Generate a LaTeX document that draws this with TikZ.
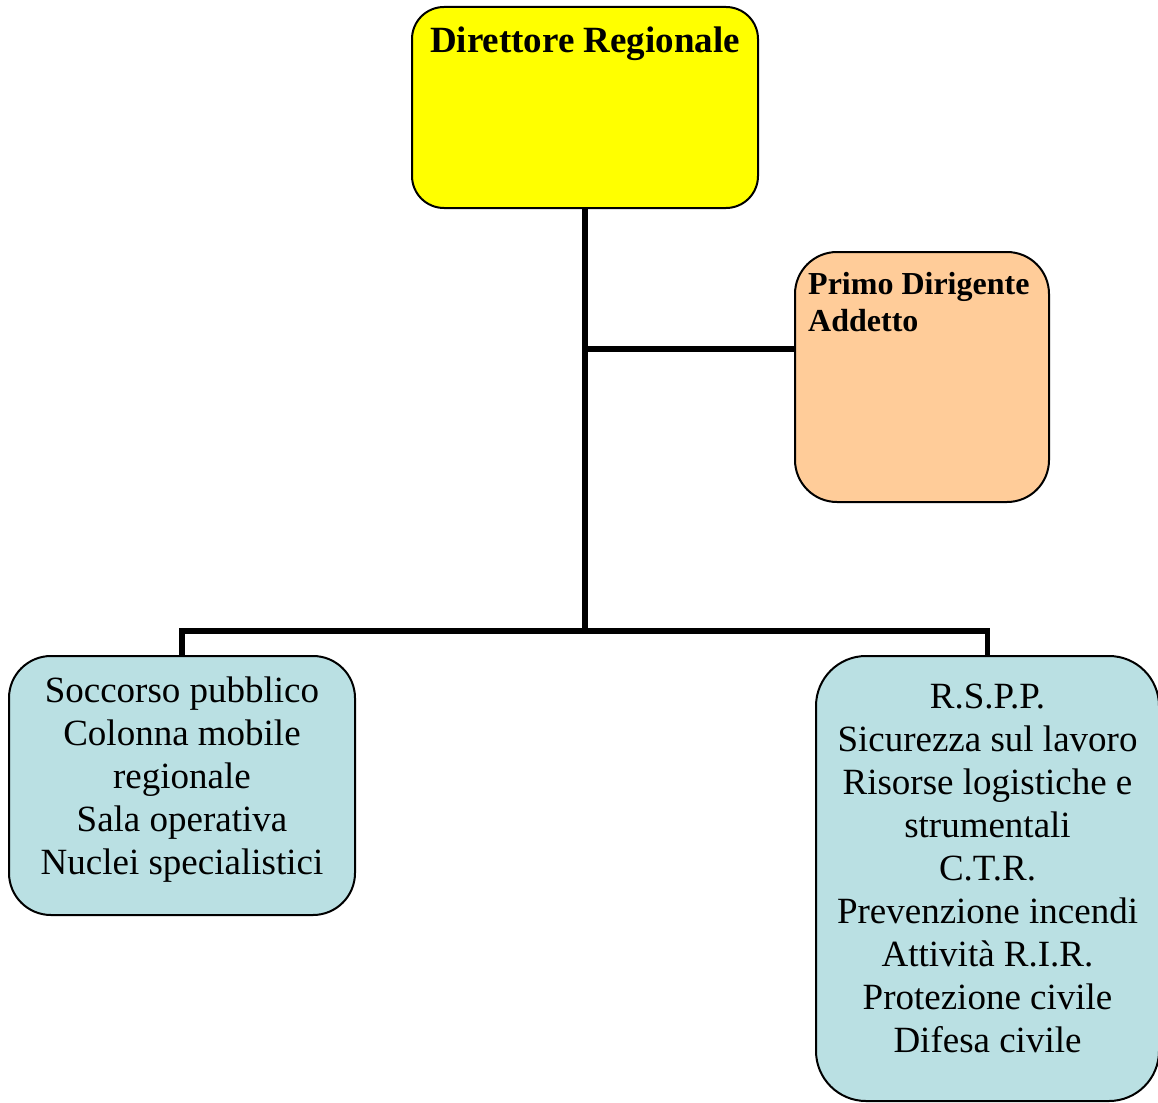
\documentclass[tikz,border=0pt]{standalone}
\usepackage{fontspec}
\setmainfont{Liberation Serif}
\definecolor{dirYellow}{HTML}{FFFF00}
\definecolor{pdOrange}{HTML}{FFCC99}
\definecolor{unitBlue}{HTML}{BAE0E3}
\begin{document}
\begin{tikzpicture}[x=1pt,y=-1pt,
  box/.style={draw=black, line width=2pt, rectangle, inner sep=0pt, outer sep=0pt},
  conn/.style={draw=black, line width=5.5pt, line join=miter},
  bigtxt/.style={font=\fontsize{37}{43}\selectfont, inner sep=0pt, align=center},
  boldtxt/.style={font=\fontsize{37}{43}\selectfont\bfseries, inner sep=0pt},
  smbold/.style={font=\fontsize{32}{37}\selectfont\bfseries, inner sep=0pt, align=left}]
\useasboundingbox[fill=white] (0,0) rectangle (1158,1102);
% boxes
\node[box, fill=dirYellow, rounded corners=32pt, minimum width=346pt, minimum height=201pt] (dir) at (585,107.5) {};
\node[box, fill=pdOrange, rounded corners=42pt, minimum width=254pt, minimum height=250pt] (pd) at (922,377) {};
\node[box, fill=unitBlue, rounded corners=42pt, minimum width=346pt, minimum height=259pt] (left) at (182,785.5) {};
\node[box, fill=unitBlue, rounded corners=50pt, minimum width=343pt, minimum height=445pt] (right) at (987.5,878.5) {};
% junctions
\coordinate (j1) at (585,349);
\coordinate (j2) at (585,631);
% connectors
\draw[conn] (dir.south) -- (j2);
\draw[conn] (j1) -- (j1 -| pd.west);
\draw[conn] (left.north) |- (j2) -| (right.north);
% texts
\node[boldtxt, anchor=base] (dirtxt) at (585,53) {Direttore Regionale};
\node[smbold, anchor=base west] (pdtxt) at (808,331) {Primo Dirigente\\Addetto};
\node[bigtxt, anchor=base] (lefttxt) at (182,874.5) {Soccorso pubblico\\Colonna mobile\\regionale\\Sala operativa\\Nuclei specialistici};
\node[bigtxt, anchor=base] (righttxt) at (987.5,1052) {R.S.P.P.\\Sicurezza sul lavoro\\Risorse logistiche e\\strumentali\\C.T.R.\\Prevenzione incendi\\Attività R.I.R.\\Protezione civile\\Difesa civile};
\end{tikzpicture}
\end{document}
